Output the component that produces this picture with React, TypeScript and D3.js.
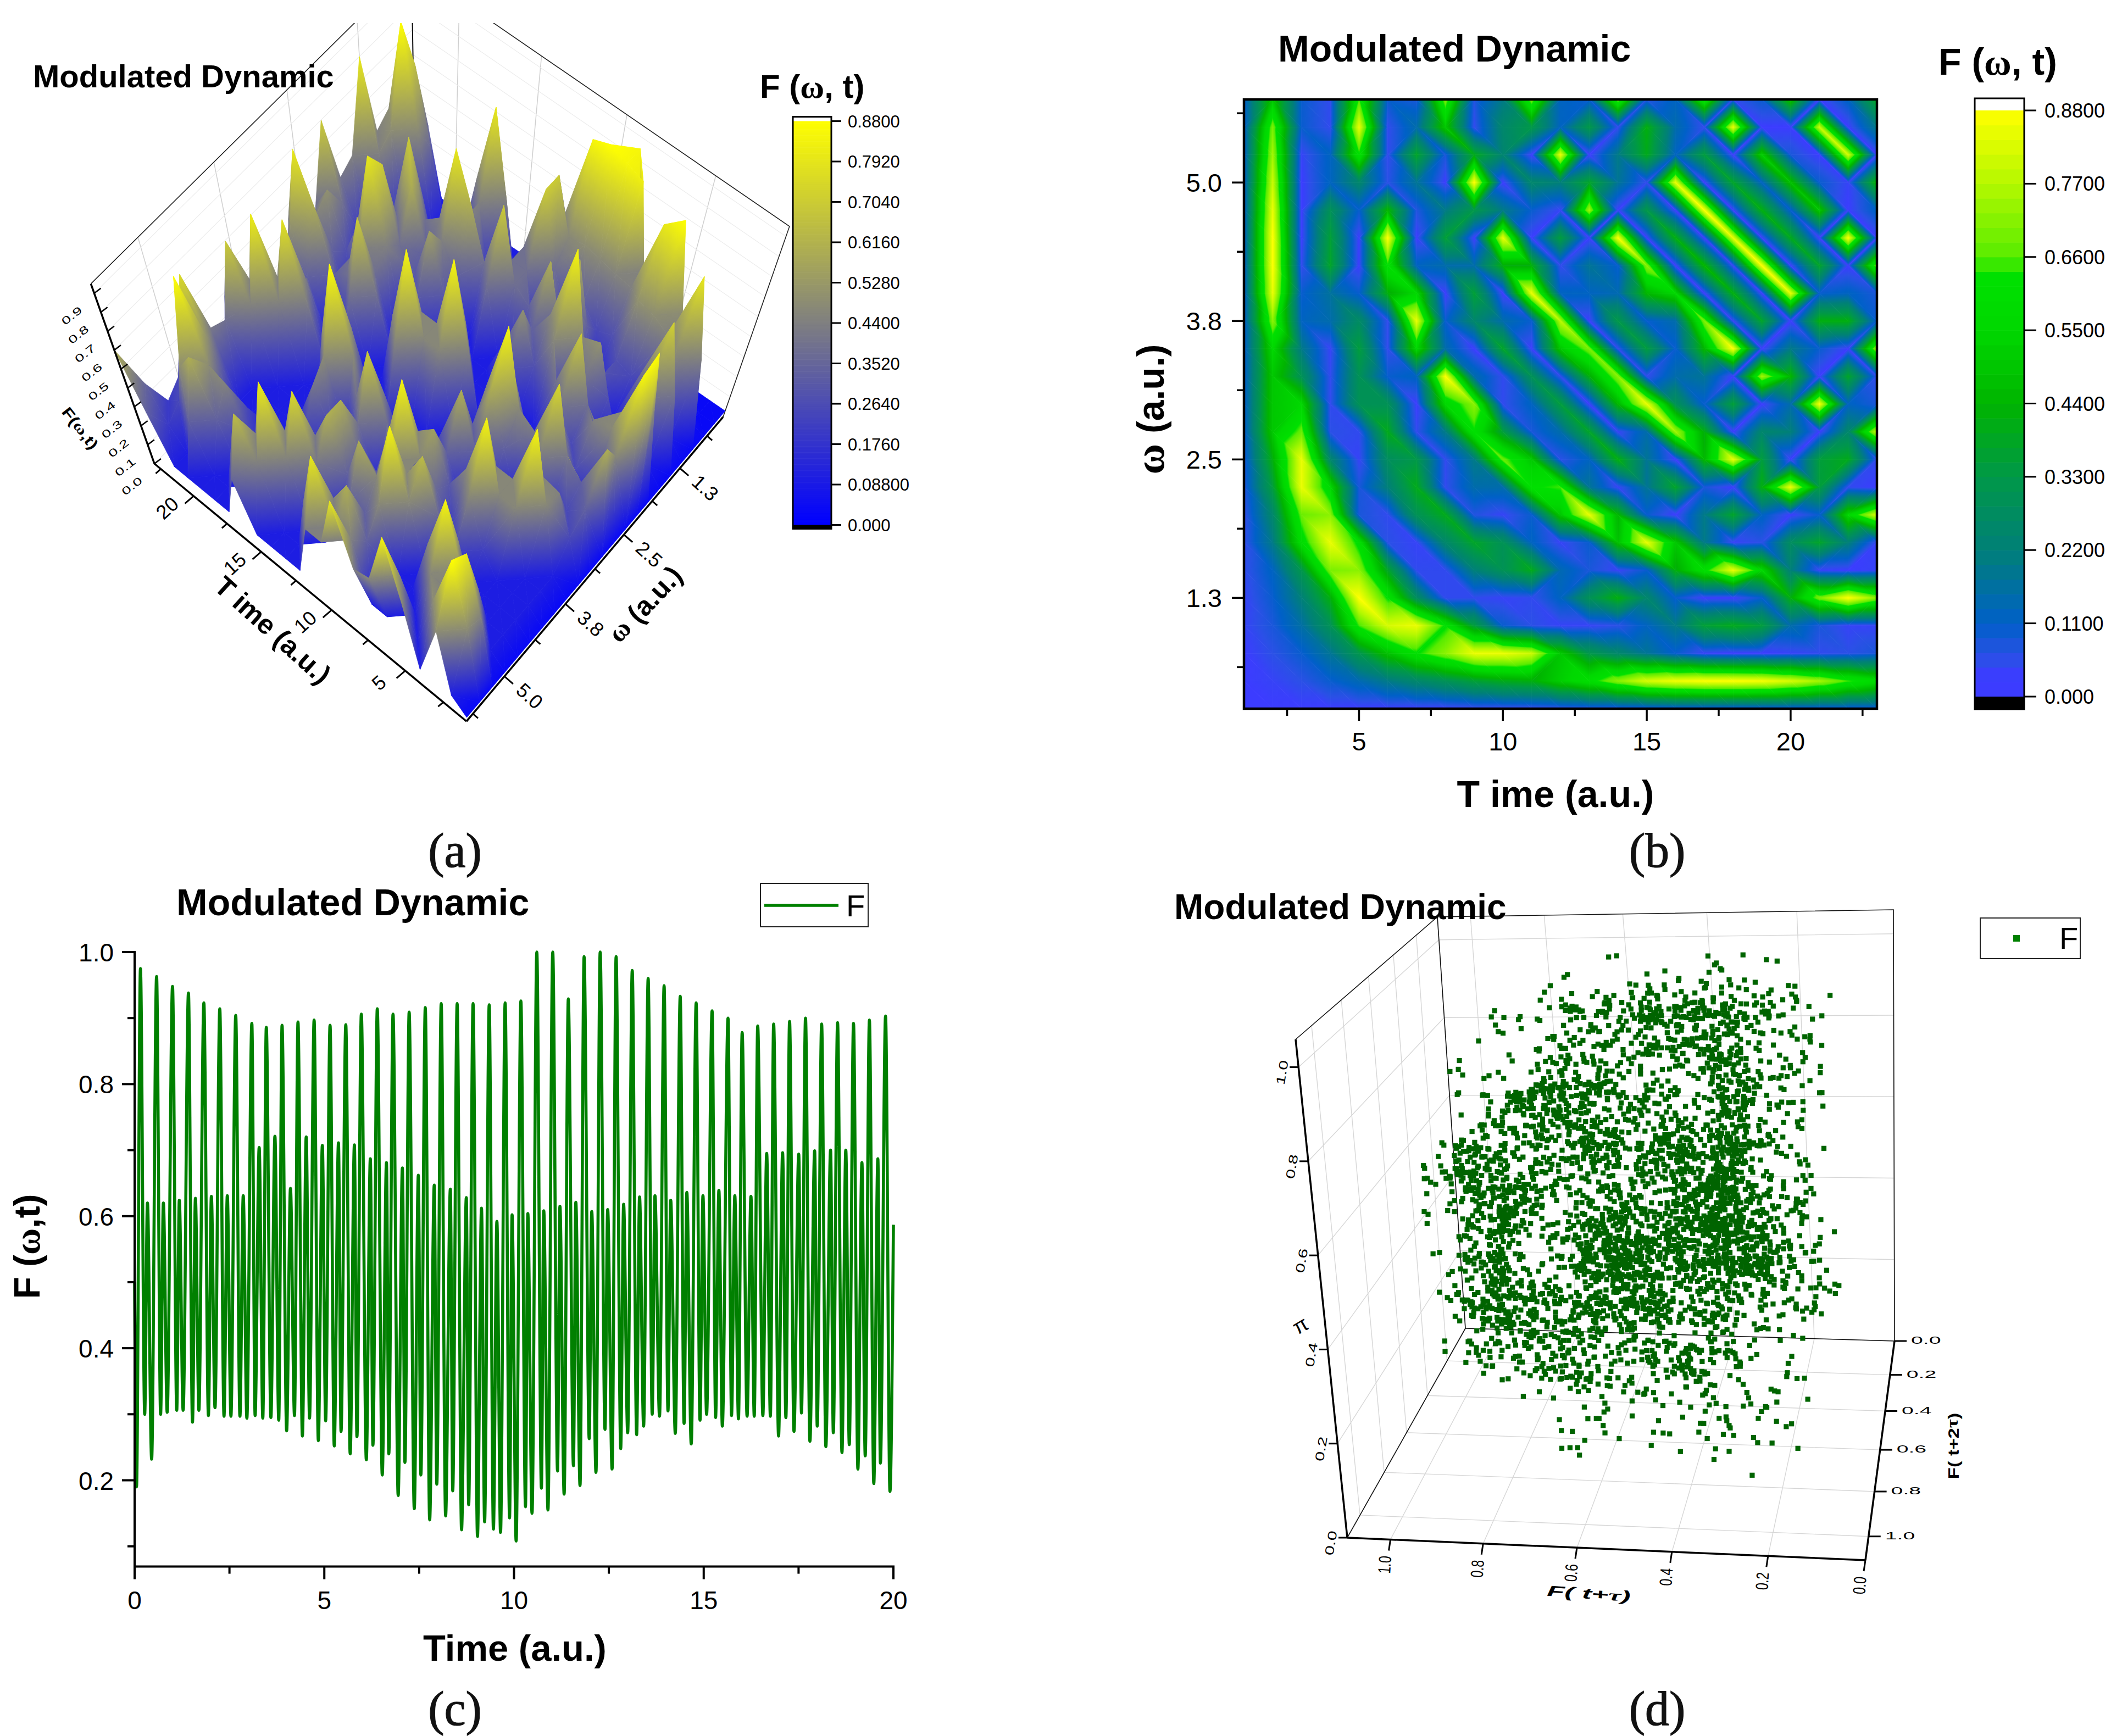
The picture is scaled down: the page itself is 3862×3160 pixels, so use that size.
import React from "react";
import * as d3 from "d3";

// ---------- heat map grid of panel (b): rows from index 23 (top) to 1, columns t = 1..23, hundredths ----------
const gridRows: number[][] = [
  [10,50,10,5,65,10,8,70,7,20,70,12,10,70,7,12,65,5,10,50,3,12,40],
  [10,70,10,5,85,5,15,50,5,25,33,12,33,5,42,15,5,85,3,3,80,3,20],
  [10,75,4,12,62,5,38,8,40,24,3,85,3,20,40,12,35,3,52,8,3,82,3],
  [10,80,3,12,25,6,18,3,88,3,25,22,38,18,5,85,3,38,12,48,10,4,45],
  [10,85,3,30,10,45,7,20,33,20,10,4,75,3,33,3,88,3,42,10,50,3,12],
  [10,88,3,36,3,88,3,36,3,85,3,35,3,88,3,42,3,85,3,40,3,88,3],
  [10,88,5,38,3,62,12,15,15,42,42,5,18,10,72,3,45,4,88,3,38,3,70],
  [10,85,10,17,10,42,55,3,36,3,85,12,12,14,45,55,3,42,3,85,10,12,8],
  [10,72,12,15,27,5,85,10,25,15,10,78,3,33,10,15,70,4,38,3,42,42,10],
  [10,55,20,4,35,5,55,15,3,38,3,50,70,5,35,10,45,88,3,20,10,3,75],
  [10,50,30,5,30,10,12,88,15,5,30,5,42,72,5,15,18,3,75,45,3,38,5],
  [10,50,55,5,30,30,3,55,72,5,12,35,3,45,85,30,10,36,3,15,87,12,8],
  [10,50,68,6,5,40,5,20,62,35,8,15,38,4,15,75,42,3,25,22,3,25,80],
  [8,42,85,25,4,28,33,5,20,68,50,6,12,42,18,3,45,85,35,3,35,40,5],
  [7,35,85,55,8,22,40,5,15,15,62,65,18,4,18,38,8,3,42,85,35,5,3],
  [5,25,68,72,8,5,30,40,7,4,10,50,85,45,10,3,20,38,12,3,10,55,82],
  [5,20,58,85,60,6,4,25,38,30,12,4,10,48,85,50,20,4,6,28,38,22,4],
  [5,12,32,70,72,38,5,5,22,30,40,14,8,4,10,42,60,85,55,22,4,3,4],
  [4,10,22,42,88,62,28,5,5,4,5,12,30,42,25,10,3,3,10,42,70,88,72],
  [4,8,16,30,65,82,85,62,35,10,6,4,4,6,12,20,36,40,35,15,8,4,4],
  [3,6,10,18,32,48,62,72,85,85,80,50,32,25,18,10,4,3,3,4,5,6,8],
  [3,4,6,10,14,20,25,30,36,40,42,52,60,72,82,86,88,88,87,82,75,65,58],
  [3,3,3,3,3,3,3,3,4,4,4,5,6,6,7,8,8,8,8,8,8,8,8],
];
const surfaceRows: number[][] = [
  [3,10,10,10,10,85,10,10,80,10,10,10,10,10,10,10,10,10,10,10,10,10,60],
  [3,10,88,10,10,10,10,10,10,10,80,10,10,10,10,65,10,10,10,10,10,10,35],
  [3,10,80,10,10,10,10,10,10,60,10,10,10,10,82,10,10,10,10,60,10,10,10],
  [3,10,10,10,85,10,10,10,10,10,10,10,10,75,10,10,10,10,45,10,88,45,10],
  [3,10,10,10,10,10,10,10,85,10,60,10,60,10,10,10,10,10,10,10,10,75,10],
  [3,10,10,10,10,10,10,65,10,10,10,10,60,10,10,10,10,10,10,10,10,10,10],
  [3,10,10,10,10,40,10,10,10,85,10,10,10,10,10,40,10,10,10,10,10,10,10],
  [3,10,10,10,40,85,10,10,55,10,10,10,70,10,10,10,10,10,10,10,10,70,10],
  [3,10,10,85,10,10,10,10,10,10,10,10,10,10,10,88,10,10,10,10,82,10,10],
  [3,10,45,10,10,10,10,10,60,10,10,10,10,10,10,10,10,10,10,78,10,10,10],
  [3,10,10,10,10,10,10,60,10,10,10,10,10,10,10,10,10,10,10,10,10,10,10],
  [3,60,10,10,75,10,45,85,10,10,10,10,10,85,10,10,10,10,10,10,10,10,10],
  [3,10,10,10,10,10,10,10,10,10,10,85,10,10,10,10,10,70,10,10,60,80,10],
  [3,85,10,45,10,10,10,10,10,10,10,10,10,10,10,10,10,10,10,10,10,10,10],
  [3,88,10,10,10,70,10,10,10,10,10,10,10,10,10,10,10,10,80,10,10,50,10],
  [3,10,10,10,10,10,10,10,10,50,10,10,10,10,10,55,10,10,70,10,10,10,70],
  [3,10,10,10,10,50,10,85,10,10,10,10,10,10,10,10,10,60,10,10,10,10,40],
  [3,10,72,10,10,10,10,10,10,60,10,10,70,10,60,80,10,10,70,10,10,10,10],
  [3,10,10,10,10,10,10,10,60,10,10,10,10,10,10,10,10,10,10,10,10,10,80],
  [3,10,80,10,45,50,10,10,10,10,10,70,10,10,10,10,10,10,10,10,10,10,10],
  [3,5,10,10,88,80,40,45,45,45,45,70,10,10,10,80,10,10,10,10,10,88,10],
  [3,3,5,5,40,40,10,82,85,88,85,10,10,10,10,10,10,10,10,10,10,65,10],
  [3,3,3,3,3,3,5,40,85,70,40,10,10,10,10,10,10,10,10,10,10,10,10],
];
const SHOULDER = 0.55;
const omegaTickIdx = [5, 10, 15, 20];
const omegaTickLabels = ["1.3", "2.5", "3.8", "5.0"];
const timeTicksGrid = [5, 10, 15, 20];
const cbarATicks = [0.88,0.792,0.704,0.616,0.528,0.44,0.352,0.264,0.176,0.088,0];
const cbarALabels = ["0.8800","0.7920","0.7040","0.6160","0.5280","0.4400","0.3520","0.2640","0.1760","0.08800","0.000"];
const cbarBTicks = [0.88,0.77,0.66,0.55,0.44,0.33,0.22,0.11,0];
const cbarBLabels = ["0.8800","0.7700","0.6600","0.5500","0.4400","0.3300","0.2200","0.1100","0.000"];
const zTicksA = [0,0.1,0.2,0.3,0.4,0.5,0.6,0.7,0.8,0.9];

// ---------- time series of panel (c): successive extrema per fast cycle ----------
const startT = [0, 0.05];
const startF = [0.5, 0.19];
const peakT = [0.154,0.579,0.999,1.419,1.825,2.245,2.665,3.09,3.471,3.886,4.306,4.731,5.151,5.566,5.976,6.396,6.811,7.236,7.661,8.081,8.501,8.921,9.346,9.766,10.181,10.601,11.021,11.431,11.847,12.271,12.691,13.116,13.536,13.956,14.381,14.801,15.221,15.641,16.013,16.423,16.843,17.263,17.683,18.108,18.528,18.948,19.367,19.793];
const peakF = [0.975,0.963,0.948,0.938,0.923,0.914,0.904,0.892,0.886,0.889,0.894,0.897,0.889,0.89,0.906,0.914,0.906,0.909,0.916,0.922,0.922,0.922,0.92,0.923,0.926,1,1,0.929,0.993,1,0.993,0.972,0.96,0.949,0.933,0.923,0.911,0.9,0.878,0.888,0.891,0.895,0.9,0.891,0.893,0.892,0.897,0.903];
const troughAT = [0.266,0.685,1.11,1.525,1.945,2.356,2.776,3.176,3.592,4.007,4.422,4.842,5.262,5.682,6.107,6.527,6.947,7.371,7.777,8.197,8.617,9.037,9.457,9.882,10.302,10.722,11.147,11.566,11.982,12.397,12.812,13.232,13.642,14.058,14.482,14.902,15.313,15.733,16.143,16.559,16.973,17.379,17.799,18.219,18.644,19.064,19.483,19.909];
const troughAF = [0.3,0.3,0.306,0.288,0.298,0.297,0.297,0.298,0.295,0.275,0.267,0.26,0.252,0.24,0.231,0.208,0.177,0.157,0.14,0.146,0.125,0.115,0.126,0.143,0.16,0.188,0.214,0.222,0.263,0.277,0.248,0.269,0.3,0.305,0.286,0.291,0.295,0.298,0.297,0.298,0.267,0.274,0.259,0.251,0.242,0.217,0.195,0.183];
const midT = [0.338,0.758,1.178,1.603,2.023,2.443,2.863,3.283,3.698,4.108,4.523,4.948,5.373,5.793,6.213,6.638,7.058,7.478,7.898,8.322,8.743,9.143,9.549,9.949,10.364,10.784,11.21,11.629,12.049,12.469,12.889,13.309,13.715,14.13,14.555,14.98,15.4,15.82,16.245,16.66,17.079,17.504,17.924,18.344,18.745,19.17,19.59];
const midF = [0.62,0.62,0.624,0.627,0.63,0.631,0.631,0.704,0.721,0.642,0.72,0.707,0.711,0.708,0.687,0.681,0.673,0.662,0.647,0.641,0.628,0.612,0.592,0.602,0.604,0.608,0.615,0.621,0.607,0.61,0.618,0.629,0.631,0.624,0.636,0.631,0.639,0.631,0.63,0.695,0.696,0.694,0.699,0.7,0.7,0.681,0.687];
const troughBT = [0.449,0.859,1.279,1.694,2.119,2.539,2.959,3.379,3.799,4.214,4.61,5.035,5.441,5.86,6.281,6.7,7.125,7.545,7.965,8.385,8.805,9.225,9.645,10.056,10.475,10.895,11.321,11.74,12.16,12.585,12.996,13.416,13.835,14.251,14.671,15.076,15.491,15.916,16.332,16.757,17.166,17.577,17.992,18.416,18.837,19.257,19.657];
const troughBF = [0.232,0.303,0.306,0.306,0.31,0.297,0.294,0.294,0.291,0.298,0.294,0.29,0.274,0.266,0.253,0.24,0.227,0.208,0.194,0.184,0.163,0.137,0.121,0.108,0.15,0.155,0.179,0.192,0.212,0.217,0.272,0.282,0.297,0.271,0.255,0.3,0.282,0.293,0.297,0.297,0.295,0.302,0.282,0.272,0.254,0.237,0.226];
const endT = 20;
const endF = 0.587;
const xTicksC = [0, 5, 10, 15, 20];
const xMinorC = [2.5, 7.5, 12.5, 17.5];
const yTicksC = [0.2, 0.4, 0.6, 0.8, 1.0];
const yMinorC = [0.1, 0.3, 0.5, 0.7, 0.9];

// delay settings of panel (d): the cloud is the series of panel (c) embedded at these delays
const embedTaus = [0.09, 0.15, 0.21, 0.27, 0.33, 0.36];
const embedCountPerTau = 640;
const tickD = [0, 0.2, 0.4, 0.6, 0.8, 1.0];

const seqT: number[] = [...startT];
const seqF: number[] = [...startF];
peakT.forEach((t, i) => {
  seqT.push(t, troughAT[i]);
  seqF.push(peakF[i], troughAF[i]);
  if (i < midT.length) {
    seqT.push(midT[i], troughBT[i]);
    seqF.push(midF[i], troughBF[i]);
  }
});
seqT.push(endT);
seqF.push(endF);

function sampleF(t: number) {
  const i = Math.min(seqT.length - 2, Math.max(0, d3.bisectRight(seqT, t) - 1));
  const w = (t - seqT[i]) / (seqT[i + 1] - seqT[i]);
  const s = (1 - Math.cos(Math.PI * Math.max(0, Math.min(1, w)))) / 2;
  return seqF[i] + (seqF[i + 1] - seqF[i]) * s;
}

type Pt = [number, number];
function homography(p0: Pt, p1: Pt, p2: Pt, p3: Pt) {
  const sx = p0[0] - p1[0] + p2[0] - p3[0];
  const sy = p0[1] - p1[1] + p2[1] - p3[1];
  const dx1 = p1[0] - p2[0], dx2 = p3[0] - p2[0], dy1 = p1[1] - p2[1], dy2 = p3[1] - p2[1];
  const den = dx1 * dy2 - dx2 * dy1;
  const g = (sx * dy2 - dx2 * sy) / den;
  const h = (dx1 * sy - sx * dy1) / den;
  const a = p1[0] - p0[0] + g * p1[0], b = p3[0] - p0[0] + h * p3[0], c = p0[0];
  const d = p1[1] - p0[1] + g * p1[1], e = p3[1] - p0[1] + h * p3[1], f = p0[1];
  return (u: number, v: number): Pt => {
    const w = g * u + h * v + 1;
    return [(a * u + b * v + c) / w, (d * u + e * v + f) / w];
  };
}

const SANS = "'Liberation Sans', Arial, sans-serif";
const SERIF = "'Liberation Serif', 'DejaVu Serif', serif";

function Txt(props: any) {
  const { children, ...rest } = props;
  return <text fontFamily={SANS} fill="#000" {...rest}>{children}</text>;
}

function splitAlongAC(a: number, b: number, c: number, d: number) {
  return Math.abs(a - c) < Math.abs(b - d) - 0.1;
}

type Tri = { pts: Pt[]; zs: number[] };
// splits every grid cell into two triangles; heights go to zv, positions to place
function buildTriangles(zv: (t: number, w: number) => number, place: (t: number, w: number, z: number) => Pt) {
  const tris: Tri[] = [];
  for (let t = 22; t >= 1; t--) {
    for (let w = 1; w <= 22; w++) {
      const a: Pt = [t, w], b: Pt = [t + 1, w], c: Pt = [t + 1, w + 1], d: Pt = [t, w + 1];
      const z = (q: Pt) => zv(q[0], q[1]);
      const groups = splitAlongAC(z(a), z(b), z(c), z(d)) ? [[b, a, c], [a, c, d]] : [[b, c, d], [b, a, d]];
      groups.forEach((g) => {
        tris.push({ pts: g.map((q) => place(q[0], q[1], z(q))), zs: g.map(z) });
      });
    }
  }
  return tris;
}
// screen-space gradient vector along which a triangle's height runs from 0 to 0.88
function gradientVector(tr: Tri) {
  const [p1, p2, p3] = tr.pts;
  const [z1, z2, z3] = tr.zs;
  const det = (p2[0] - p1[0]) * (p3[1] - p1[1]) - (p3[0] - p1[0]) * (p2[1] - p1[1]);
  if (Math.abs(det) < 1e-6) return null;
  const a = ((z2 - z1) * (p3[1] - p1[1]) - (z3 - z1) * (p2[1] - p1[1])) / det;
  const b = ((p2[0] - p1[0]) * (z3 - z1) - (p3[0] - p1[0]) * (z2 - z1)) / det;
  const n = a * a + b * b;
  if (n < 1e-14) return null;
  const s0 = (0 - z1) / n, s1 = (0.88 - z1) / n;
  return { x1: p1[0] + a * s0, y1: p1[1] + b * s0, x2: p1[0] + a * s1, y2: p1[1] + b * s1 };
}
function TriLayer({ tris, prefix, base, flat }: { tris: Tri[]; prefix: string; base: string; flat: (z: number) => string }) {
  const vecs = tris.map(gradientVector);
  return (
    <g>
      <defs>
        {vecs.map((v, i) => v && (
          <linearGradient key={i} id={`${prefix}${i}`} href={`#${base}`} gradientUnits="userSpaceOnUse" x1={v.x1} y1={v.y1} x2={v.x2} y2={v.y2} />
        ))}
      </defs>
      {tris.map((tr, i) => {
        const f = vecs[i] ? `url(#${prefix}${i})` : flat(d3.mean(tr.zs) as number);
        return <polygon key={i} points={tr.pts.map((q) => q.join(",")).join(" ")} fill={f} stroke={f} strokeWidth={0.8} strokeLinejoin="round" />;
      })}
    </g>
  );
}

// ---------- Panel (a) ----------
const A_R: Pt = [1316, 759], A_B: Pt = [756, 374], A_L: Pt = [281, 844], A_N: Pt = [849, 1313];
const A_V: Pt = [787, 2277];
const A_K = 0.2405;
const floorA = homography(A_R, A_B, A_L, A_N);
const gridT = d3.scaleLinear().domain([1, 23]).range([0, 1]);
const gridW = d3.scaleLinear().domain([1, 23]).range([0, 1]);
function projA(t: number, w: number, z: number): Pt {
  const p = floorA(gridT(t), gridW(w));
  const f = 1 + A_K * z;
  return [A_V[0] + (p[0] - A_V[0]) * f, A_V[1] + (p[1] - A_V[1]) * f];
}
const valueAt = (t: number, w: number) => gridRows[23 - w][t - 1] / 100;
const rawSurface = (t: number, w: number) => (t < 1 || t > 23 || w < 1 || w > 23 ? 0 : surfaceRows[23 - w][t - 1] / 100);
// spikes keep their read height; the nodes next to them carry the flanks
const surfaceAt = (t: number, w: number) =>
  t === 1 ? rawSurface(t, w) : Math.max(rawSurface(t, w), SHOULDER * Math.max(rawSurface(t - 1, w), rawSurface(t + 1, w), rawSurface(t, w - 1), rawSurface(t, w + 1)));

function PanelA() {
  const tris = buildTriangles(surfaceAt, projA);
  const cbar = d3.scaleLinear().domain([0, 0.88]).range([955.5, 220.5]);
  const colorA = d3.scaleLinear<string>().domain([0, 0.88]).range(["#0000ff", "#ffff00"]).interpolate(d3.interpolateRgb);
  const P = projA;
  const Ltop = P(23, 23, 0.95), Rtop = P(1, 1, 0.95), Btop = P(23, 1, 0.95);
  const Lb = P(23, 23, 0), Rb = P(1, 1, 0), Bb = P(23, 1, 0), Nb = P(1, 23, 0);
  return (
    <g>
      <defs>
        <clipPath id="clipA"><rect x={0} y={42} width={1700} height={1400} /></clipPath>
        <linearGradient id="gaBase">
          <stop offset="0" stopColor="#0000ff" />
          <stop offset="1" stopColor="#ffff00" />
        </linearGradient>
      </defs>
      <g clipPath="url(#clipA)">
        {timeTicksGrid.concat([23]).map((t) => {
          const a = P(t, 1, 0), b = P(t, 1, 0.95);
          return <line key={t} x1={a[0]} y1={a[1]} x2={b[0]} y2={b[1]} stroke="#cfcfcf" strokeWidth={1.5} />;
        })}
        {omegaTickIdx.concat([23]).map((w) => {
          const a = P(23, w, 0), b = P(23, w, 0.95);
          return <line key={w} x1={a[0]} y1={a[1]} x2={b[0]} y2={b[1]} stroke="#cfcfcf" strokeWidth={1.5} />;
        })}
        {zTicksA.map((z) => {
          const a = P(1, 1, z), b = P(23, 1, z), c = P(23, 23, z);
          return <polyline key={z} points={[a, b, c].map((q) => q.join(",")).join(" ")} fill="none" stroke="#ececec" strokeWidth={1.2} />;
        })}
        <polyline points={[Ltop, Btop, Rtop, Rb].map((q) => q.join(",")).join(" ")} fill="none" stroke="#222" strokeWidth={1.6} />
        <line x1={Bb[0]} y1={Bb[1]} x2={Btop[0]} y2={Btop[1]} stroke="#111" strokeWidth={2} />
        <TriLayer tris={tris} prefix="ga" base="gaBase" flat={(z) => colorA(z)} />
      </g>
      <line x1={Nb[0]} y1={Nb[1]} x2={Lb[0]} y2={Lb[1]} stroke="#000" strokeWidth={3.5} />
      <line x1={Nb[0]} y1={Nb[1]} x2={Rb[0]} y2={Rb[1]} stroke="#000" strokeWidth={3.5} />
      <line x1={Lb[0]} y1={Lb[1]} x2={Ltop[0]} y2={Ltop[1]} stroke="#000" strokeWidth={3.5} />
      {d3.range(2.5, 23, 2.5).map((t) => {
        const a = P(t, 23, 0), maj = t % 5 === 0, l = maj ? 22 : 13;
        return <line key={t} x1={a[0]} y1={a[1]} x2={a[0] - l * 0.72} y2={a[1] + l * 0.62} stroke="#000" strokeWidth={3} />;
      })}
      {timeTicksGrid.map((t) => {
        const a = P(t, 23, 0);
        return <Txt key={t} transform={`translate(${a[0] - 46},${a[1] + 24}) rotate(-42)`} fontSize={36} textAnchor="middle" dominantBaseline="middle">{t}</Txt>;
      })}
      {d3.range(2.5, 23, 2.5).map((w) => {
        const a = P(1, w, 0), maj = w % 5 === 0, l = maj ? 22 : 13;
        return <line key={w} x1={a[0]} y1={a[1]} x2={a[0] + l * 0.72} y2={a[1] + l * 0.62} stroke="#000" strokeWidth={3} />;
      })}
      {omegaTickIdx.map((w, i) => {
        const a = P(1, w, 0);
        return <Txt key={w} transform={`translate(${a[0] + 44},${a[1] + 38}) rotate(42)`} fontSize={36} textAnchor="middle" dominantBaseline="middle">{omegaTickLabels[i]}</Txt>;
      })}
      {zTicksA.map((z) => {
        const a = P(23, 23, z);
        return (
          <g key={z}>
            <line x1={a[0]} y1={a[1]} x2={a[0] + 12} y2={a[1] - 9} stroke="#000" strokeWidth={2.5} />
            <Txt transform={`translate(${a[0] - 40},${a[1] + 42}) rotate(-38) scale(1.15,0.75)`} fontSize={26} textAnchor="middle" dominantBaseline="middle">{z.toFixed(1)}</Txt>
          </g>
        );
      })}
      <Txt transform="translate(494,1150) rotate(42)" fontSize={50} fontWeight="bold" textAnchor="middle" dominantBaseline="middle">T ime (a.u.)</Txt>
      <text transform="translate(1177,1103) rotate(-47)" fontSize={50} fontWeight="bold" textAnchor="middle" dominantBaseline="middle" fontFamily={SANS}>
        <tspan fontFamily={SERIF}>ω</tspan> (a.u.)
      </text>
      <text transform="translate(144,781) rotate(52) scale(1,0.8)" fontSize={34} fontWeight="bold" textAnchor="middle" dominantBaseline="middle" fontFamily={SANS}>
        F(<tspan fontFamily={SERIF}>ω</tspan>,t)
      </text>
      <Txt x={60} y={159} fontSize={58} fontWeight="bold">Modulated Dynamic</Txt>
      <text x={1383} y={178} fontSize={60} fontWeight="bold" fontFamily={SANS}>
        F (<tspan fontFamily={SERIF}>ω</tspan>, t)
      </text>
      <rect x={1443} y={212.5} width={70} height={750} fill="#fff" />
      {d3.range(0, 200).map((i) => {
        const v0 = (i / 200) * 0.88, v1 = ((i + 1) / 200) * 0.88;
        return <rect key={i} x={1443} y={cbar(v1)} width={70} height={cbar(v0) - cbar(v1) + 0.6} fill={colorA(v0)} />;
      })}
      <rect x={1443} y={955.5} width={70} height={7} fill="#000" />
      <rect x={1443} y={212.5} width={70} height={750} fill="none" stroke="#000" strokeWidth={3} />
      {cbarATicks.map((v, i) => (
        <g key={i}>
          <line x1={1513} x2={1531} y1={cbar(v)} y2={cbar(v)} stroke="#000" strokeWidth={3} />
          <Txt x={1543} y={cbar(v) + 11} fontSize={31}>{cbarALabels[i]}</Txt>
        </g>
      ))}
    </g>
  );
}

// ---------- Panel (b) ----------
const bStops = [0, 0.03, 0.06, 0.11, 0.22, 0.33, 0.44, 0.55, 0.63, 0.66, 0.77, 0.88];
const bColors = ["#3c3cff", "#3c3cff", "#2a50e6", "#0060c8", "#008078", "#009848", "#00b400", "#00d800", "#00e000", "#58ec00", "#b4f800", "#ffff00"];

function PanelB() {
  const left = 2264, right = 3416, top = 181, bottom = 1290;
  const x = d3.scaleLinear().domain([1, 23]).range([left, right]);
  const y = d3.scaleLinear().domain([1, 23]).range([bottom, top]);
  const color = d3.scaleLinear<string>().domain(bStops).range(bColors).interpolate(d3.interpolateRgb);
  const tris = buildTriangles(valueAt, (t, w) => [x(t), y(w)]);
  const cbar = d3.scaleLinear().domain([0, 0.88]).range([1268, 201]);
  const bands = d3.range(0, 40);
  return (
    <g>
      <defs>
        <clipPath id="clipB"><rect x={left} y={top} width={right - left} height={bottom - top} /></clipPath>
        <linearGradient id="gbBase">
          {bStops.map((s, i) => <stop key={i} offset={s / 0.88} stopColor={bColors[i]} />)}
        </linearGradient>
      </defs>
      <g clipPath="url(#clipB)">
        <TriLayer tris={tris} prefix="gb" base="gbBase" flat={(z) => color(z)} />
      </g>
      <rect x={left} y={top} width={right - left} height={bottom - top} fill="none" stroke="#000" strokeWidth={4.5} />
      {d3.range(2.5, 23, 2.5).map((t) => {
        const maj = t % 5 === 0;
        return <line key={t} x1={x(t)} x2={x(t)} y1={bottom} y2={bottom + (maj ? 22 : 13)} stroke="#000" strokeWidth={3.5} />;
      })}
      {d3.range(2.5, 23, 2.5).map((t) => {
        const maj = t % 5 === 0;
        return <line key={t} y1={y(t)} y2={y(t)} x1={left} x2={left - (maj ? 22 : 13)} stroke="#000" strokeWidth={3.5} />;
      })}
      {timeTicksGrid.map((t) => (
        <Txt key={t} x={x(t)} y={1366} fontSize={47} textAnchor="middle">{t}</Txt>
      ))}
      {omegaTickIdx.map((w, i) => (
        <Txt key={w} x={2224} y={y(w) + 17} fontSize={47} textAnchor="end">{omegaTickLabels[i]}</Txt>
      ))}
      <Txt x={2326} y={112} fontSize={68} fontWeight="bold">Modulated Dynamic</Txt>
      <Txt x={2831} y={1469} fontSize={68} fontWeight="bold" textAnchor="middle">T ime (a.u.)</Txt>
      <text transform="translate(2118,745) rotate(-90)" fontSize={68} fontWeight="bold" textAnchor="middle" fontFamily={SANS}>
        <tspan fontFamily={SERIF} fontSize={76}>ω</tspan> (a.u.)
      </text>
      <text x={3528} y={136} fontSize={68} fontWeight="bold" fontFamily={SANS}>
        F (<tspan fontFamily={SERIF}>ω</tspan>, t)
      </text>
      <rect x={3594} y={179} width={90} height={1112} fill="#fff" />
      {bands.map((i) => {
        const v0 = (i / 40) * 0.88, v1 = ((i + 1) / 40) * 0.88;
        return <rect key={i} x={3594} y={cbar(v1)} width={90} height={cbar(v0) - cbar(v1) + 0.6} fill={color(v0 + 0.011)} />;
      })}
      <rect x={3594} y={1268} width={90} height={23} fill="#000" />
      <rect x={3594} y={179} width={90} height={1112} fill="none" stroke="#000" strokeWidth={3} />
      {cbarBTicks.map((v, i) => (
        <g key={i}>
          <line x1={3684} x2={3706} y1={cbar(v)} y2={cbar(v)} stroke="#000" strokeWidth={3} />
          <Txt x={3721} y={cbar(v) + 13} fontSize={36}>{cbarBLabels[i]}</Txt>
        </g>
      ))}
    </g>
  );
}

// ---------- Panel (c) ----------
function PanelC() {
  const x = d3.scaleLinear().domain([0, 20]).range([245, 1626]);
  const y = d3.scaleLinear().domain([0.2, 1.0]).range([2694.5, 1733]);
  const yBottom = 2851.6;
  const line = d3.line<number>().x((_, i) => x(seqT[i])).y((d) => y(d)).curve(d3.curveMonotoneX);
  return (
    <g>
      <path d={line(seqF) || ""} fill="none" stroke="#008000" strokeWidth={5.6} strokeLinejoin="round" />
      <line x1={245} x2={245} y1={1731} y2={yBottom} stroke="#000" strokeWidth={4} />
      <line x1={243} x2={1628} y1={yBottom} y2={yBottom} stroke="#000" strokeWidth={4} />
      {yTicksC.map((v) => (
        <g key={v}>
          <line x1={245} x2={222} y1={y(v)} y2={y(v)} stroke="#000" strokeWidth={4} />
          <Txt x={207} y={y(v) + 17} fontSize={46} textAnchor="end">{v.toFixed(1)}</Txt>
        </g>
      ))}
      {yMinorC.map((v) => (
        <line key={v} x1={245} x2={232} y1={y(v)} y2={y(v)} stroke="#000" strokeWidth={4} />
      ))}
      {xTicksC.map((v) => (
        <g key={v}>
          <line x1={x(v)} x2={x(v)} y1={yBottom} y2={yBottom + 23} stroke="#000" strokeWidth={4} />
          <Txt x={x(v)} y={2929} fontSize={46} textAnchor="middle">{v}</Txt>
        </g>
      ))}
      {xMinorC.map((v) => (
        <line key={v} x1={x(v)} x2={x(v)} y1={yBottom} y2={yBottom + 13} stroke="#000" strokeWidth={4} />
      ))}
      <Txt x={321} y={1666} fontSize={68} fontWeight="bold">Modulated Dynamic</Txt>
      <Txt x={937} y={3023} fontSize={67} fontWeight="bold" textAnchor="middle">Time (a.u.)</Txt>
      <text transform="translate(72,2269) rotate(-90)" fontSize={66} fontWeight="bold" textAnchor="middle" fontFamily={SANS}>
        F (<tspan fontFamily={SERIF}>ω</tspan>,t)
      </text>
      <rect x={1384} y={1608} width={196} height={79} fill="#fff" stroke="#222" strokeWidth={2} />
      <line x1={1391} x2={1526} y1={1648} y2={1648} stroke="#008000" strokeWidth={5.6} />
      <Txt x={1540} y={1668} fontSize={56}>F</Txt>
    </g>
  );
}

// ---------- Panel (d) ----------
const D_NL: Pt = [2452, 2799], D_NR: Pt = [3395, 2840], D_BR: Pt = [3448, 2441], D_BL: Pt = [2667, 2418];
const D_NLt: Pt = [2358, 1892], D_NRt: Pt = [3402, 1935], D_BRt: Pt = [3446, 1656], D_BLt: Pt = [2616, 1669];
const floorD = homography(D_BR, D_BL, D_NL, D_NR);
const topD = homography(D_BRt, D_BLt, D_NLt, D_NRt);
const D_XMAX = 1.094, D_YMAX = 1.1, D_ZMAX = 1.059;
function projD(a: number, b: number, c: number): Pt {
  const u = a / D_XMAX, v = b / D_YMAX, w = c / D_ZMAX;
  const p = floorD(u, v), q = topD(u, v);
  return [p[0] + (q[0] - p[0]) * w, p[1] + (q[1] - p[1]) * w];
}

function PanelD() {
  const pts: Pt[] = [];
  embedTaus.forEach((tau, k) => {
    d3.range(embedCountPerTau).forEach((i) => {
      const t = ((i + k / embedTaus.length) / embedCountPerTau) * (20 - 2 * tau);
      pts.push(projD(sampleF(t + tau), sampleF(t + 2 * tau), sampleF(t)));
    });
  });
  const grid = "#d6d6d6";
  return (
    <g>
      {tickD.map((v) => {
        const a = projD(v, 0, 0), b = projD(v, D_YMAX, 0), c = projD(v, 0, D_ZMAX);
        return (
          <g key={`x${v}`}>
            <line x1={a[0]} y1={a[1]} x2={b[0]} y2={b[1]} stroke={grid} strokeWidth={1.4} />
            <line x1={a[0]} y1={a[1]} x2={c[0]} y2={c[1]} stroke={grid} strokeWidth={1.4} />
          </g>
        );
      })}
      {tickD.map((v) => {
        const a = projD(D_XMAX, v, 0), b = projD(0, v, 0), c = projD(D_XMAX, v, D_ZMAX);
        return (
          <g key={`y${v}`}>
            <line x1={a[0]} y1={a[1]} x2={b[0]} y2={b[1]} stroke={grid} strokeWidth={1.4} />
            <line x1={a[0]} y1={a[1]} x2={c[0]} y2={c[1]} stroke={grid} strokeWidth={1.4} />
          </g>
        );
      })}
      {tickD.map((v) => {
        const a = projD(D_XMAX, D_YMAX, v), b = projD(D_XMAX, 0, v), c = projD(0, 0, v);
        return <polyline key={`z${v}`} points={[a, b, c].map((q) => q.join(",")).join(" ")} fill="none" stroke={grid} strokeWidth={1.4} />;
      })}
      <polyline points={[D_NLt, D_BLt, D_BRt, D_BR, D_BL, D_BLt].map((q) => q.join(",")).join(" ")} fill="none" stroke="#111" strokeWidth={1.6} />
      <line x1={D_BL[0]} y1={D_BL[1]} x2={D_NL[0]} y2={D_NL[1]} stroke="#111" strokeWidth={1.6} />
      {pts.map((p, i) => (
        <rect key={i} x={p[0] - 4.6} y={p[1] - 4.6} width={9.2} height={9.2} fill="#006400" />
      ))}
      <line x1={D_NL[0]} y1={D_NL[1]} x2={D_NLt[0]} y2={D_NLt[1]} stroke="#000" strokeWidth={3.5} />
      <line x1={D_NL[0]} y1={D_NL[1]} x2={D_NR[0]} y2={D_NR[1]} stroke="#000" strokeWidth={3.5} />
      <line x1={D_NR[0]} y1={D_NR[1]} x2={D_BR[0]} y2={D_BR[1]} stroke="#000" strokeWidth={3.5} />
      {tickD.map((v) => {
        const a = projD(v, D_YMAX, 0);
        return (
          <g key={`lx${v}`}>
            <line x1={a[0]} y1={a[1]} x2={a[0] - 3} y2={a[1] + 20} stroke="#000" strokeWidth={3} />
            <Txt transform={`translate(${a[0] - 8},${a[1] + 46}) rotate(-86) scale(0.72,1)`} fontSize={32} textAnchor="middle" dominantBaseline="middle">{v.toFixed(1)}</Txt>
          </g>
        );
      })}
      {tickD.map((v) => {
        const a = projD(0, v, 0);
        return (
          <g key={`ly${v}`}>
            <line x1={a[0]} y1={a[1]} x2={a[0] + 22} y2={a[1]} stroke="#000" strokeWidth={3} />
            <Txt transform={`translate(${a[0] + 30},${a[1]}) scale(1.4,0.68)`} fontSize={28} dominantBaseline="middle">{v.toFixed(1)}</Txt>
          </g>
        );
      })}
      {tickD.map((v) => {
        const a = projD(D_XMAX, D_YMAX, v);
        return (
          <g key={`lz${v}`}>
            <line x1={a[0]} y1={a[1]} x2={a[0] - 16} y2={a[1]} stroke="#000" strokeWidth={3} />
            <Txt transform={`translate(${a[0] - 28},${a[1] + 10}) rotate(-80) scale(0.9,0.62)`} fontSize={36} textAnchor="middle" dominantBaseline="middle">{v.toFixed(1)}</Txt>
          </g>
        );
      })}
      <Txt x={2137} y={1673} fontSize={64} fontWeight="bold">Modulated Dynamic</Txt>
      <text transform="translate(2891,2910) rotate(4) scale(1.45,0.75)" fontSize={36} fontWeight="bold" fontStyle="italic" textAnchor="middle" fontFamily={SANS}>
        F( t+<tspan fontFamily={SERIF}>τ</tspan>)
      </text>
      <text transform="translate(3557,2632) rotate(-90) scale(1.15,0.95)" fontSize={30} fontWeight="bold" textAnchor="middle" dominantBaseline="middle" fontFamily={SANS}>
        F( t+2<tspan fontFamily={SERIF}>τ</tspan>)
      </text>
      <text transform="translate(2368,2415) rotate(-30)" fontSize={38} textAnchor="middle" dominantBaseline="middle" fontFamily={SANS}>π</text>
      <rect x={3604} y={1671} width={182} height={74} fill="#fff" stroke="#222" strokeWidth={2} />
      <rect x={3664} y={1702} width={12} height={12} fill="#008000" />
      <Txt x={3748} y={1727} fontSize={56}>F</Txt>
    </g>
  );
}

const panelLabels: [string, number, number][] = [
  ["(a)", 828, 1578],
  ["(b)", 3016, 1578],
  ["(c)", 828, 3140],
  ["(d)", 3016, 3140],
];

export default function App() {
  return (
    <svg width={3862} height={3160} viewBox="0 0 3862 3160"
      style={{ position: "absolute", left: 0, top: 0, display: "block", background: "#fff" }}>
      <rect width={3862} height={3160} fill="#fff" />
      <PanelA />
      <PanelB />
      <PanelC />
      <PanelD />
      {panelLabels.map(([t, x, y]) => (
        <text key={t} x={x} y={y} fontSize={88} fontFamily={SERIF} textAnchor="middle" fill="#111" stroke="#111" strokeWidth={1.2}>{t}</text>
      ))}
    </svg>
  );
}
